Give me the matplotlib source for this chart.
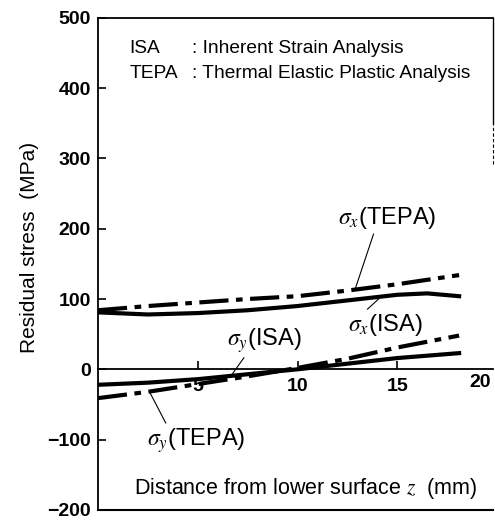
import matplotlib.pyplot as plt
from matplotlib.lines import Line2D

plt.rcParams['font.family'] = ['Liberation Sans', 'DejaVu Sans']
plt.rcParams['mathtext.fontset'] = 'stix'

# Distance from lower surface z (mm) and residual stress (MPa)
z = [0, 2.5, 5, 7.5, 10, 12.5, 15, 18.1]
sx_tepa = [84, 90, 95, 100, 104, 112, 121, 134]
sy_tepa = [-41, -32, -21, -10, 2, 15, 31, 48]
sy_isa = [-22, -19, -14, -7, 0, 8, 16, 23]

z_sx_isa = [0, 2.5, 5, 7.5, 10, 12.5, 15, 16.5, 18.1]
sx_isa = [81, 78, 80, 84, 90, 98, 106, 108, 104]

yticks = [-200, -100, 0, 100, 200, 300, 400, 500]
xticks = [5, 10, 15]
xticklabels = ['5', '10', '15']

fig = plt.figure(figsize=(4.95, 5.23), dpi=100)
ax_pos = [0.198, 0.025, 0.798, 0.941]
ax = fig.add_axes(ax_pos)

dashdot = (7, 1.8, 1.6, 1.8)
lw = 3.0
ax.plot(z, sx_tepa, color='black', lw=lw, dashes=dashdot)
ax.plot(z_sx_isa, sx_isa, color='black', lw=lw)
ax.plot(z, sy_tepa, color='black', lw=lw, dashes=dashdot)
ax.plot(z, sy_isa, color='black', lw=lw)

ax.set_xlim(0, 19.8)
ax.set_ylim(-200, 500)

# x axis runs through zero, box drawn around the rest
ax.spines['bottom'].set_position(('data', 0))
ax.spines['bottom'].set_linewidth(1.3)
ax.spines['left'].set_linewidth(1.3)
ax.spines['top'].set_linewidth(1.3)
ax.spines['right'].set_linewidth(1.0)
ax.spines['right'].set_bounds(350, 500)
ax.plot([1, 1], [0.703, 0.786], transform=ax.transAxes, color='black',
        lw=0.8, ls=(0, (3, 2)), clip_on=False)
# bottom edge of the frame
fig.add_artist(Line2D([ax_pos[0], ax_pos[0] + ax_pos[2]],
                      [ax_pos[1], ax_pos[1]], transform=fig.transFigure,
                      color='black', lw=1.5))

ax.set_yticks(yticks)
ax.set_xticks(xticks)
ax.set_xticklabels(xticklabels)
ax.tick_params(axis='y', direction='in', length=6, width=1.2, pad=5,
               labelsize=14)
ax.tick_params(axis='x', direction='in', length=6, width=1.2, pad=6,
               labelsize=14)
for lbl in ax.get_yticklabels() + ax.get_xticklabels():
    lbl.set_fontweight('bold')
for lbl in ax.get_xticklabels():
    lbl.set_bbox(dict(fc='white', ec='none', pad=0.3))
ax.text(19.15, -6, '20', fontsize=14, fontweight='bold', ha='center',
        va='top')

ax.set_ylabel('Residual stress  (MPa)', fontsize=15)
ax.yaxis.set_label_coords(-0.15, 0.533)

ax.text(1.56, 457, 'ISA', fontsize=13.8, va='center')
ax.text(4.7, 457, ': Inherent Strain Analysis', fontsize=13.8, va='center')
ax.text(1.56, 421, 'TEPA', fontsize=13.8, va='center')
ax.text(4.7, 421, ': Thermal Elastic Plastic Analysis', fontsize=13.8,
        va='center')

ax.text(10.4, -170, 'Distance from lower surface $z$  (mm)', fontsize=15.5,
        ha='center', va='center')

lead = dict(arrowstyle='-', lw=0.8, color='black', shrinkA=0, shrinkB=0)
ax.annotate(r'$\sigma_x$(TEPA)', xy=(12.9, 115), xytext=(14.5, 215),
            fontsize=17, ha='center', va='center',
            arrowprops=dict(lead, relpos=(0.37, 0)))
ax.annotate(r'$\sigma_x$(ISA)', xy=(14.1, 101), xytext=(14.4, 63),
            fontsize=17, ha='center', va='center',
            arrowprops=dict(lead, relpos=(0.22, 1)))
ax.annotate(r'$\sigma_y$(ISA)', xy=(6.7, -8), xytext=(8.35, 41),
            fontsize=17, ha='center', va='center',
            arrowprops=dict(lead, relpos=(0.25, 0)))
ax.annotate(r'$\sigma_y$(TEPA)', xy=(2.6, -33), xytext=(4.9, -101),
            fontsize=17, ha='center', va='center',
            arrowprops=dict(lead, relpos=(0.21, 1)))

fig.savefig('out.png', dpi=100)
